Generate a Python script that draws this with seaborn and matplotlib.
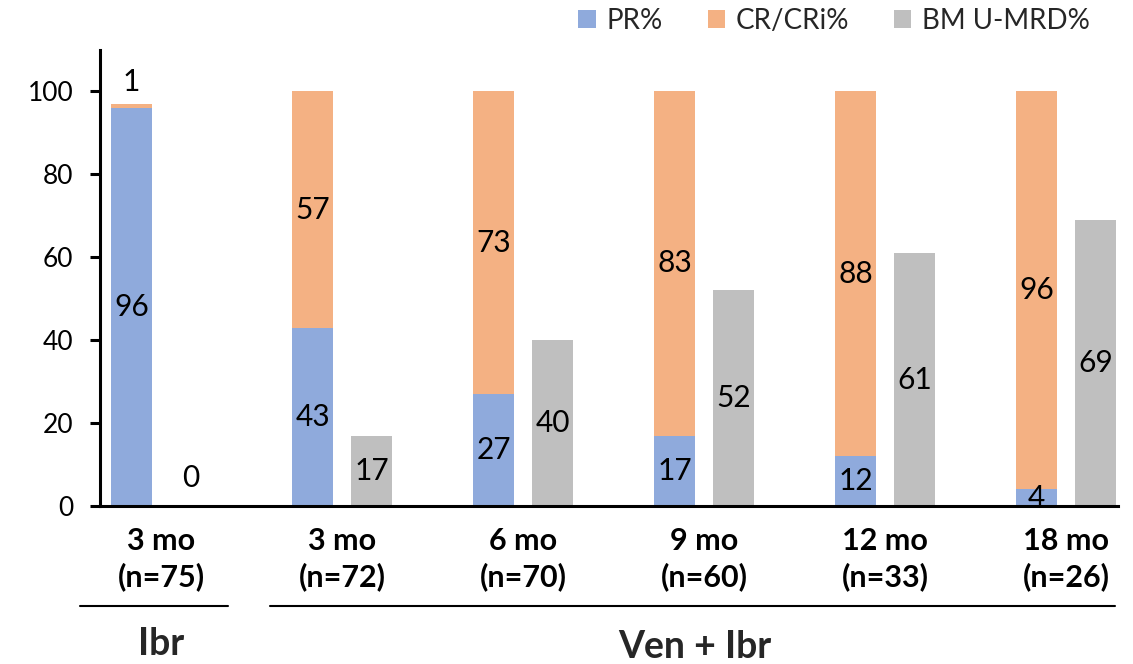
import matplotlib
matplotlib.use("Agg")
import matplotlib.pyplot as plt
import seaborn as sns
import pandas as pd
from matplotlib.patches import Patch
from matplotlib.lines import Line2D

# Response data per assessment time point
timepoints = ["3 mo\n(n=75)", "3 mo\n(n=72)", "6 mo\n(n=70)",
              "9 mo\n(n=60)", "12 mo\n(n=33)", "18 mo\n(n=26)"]
pr_pct = [96, 43, 27, 17, 12, 4]
cr_pct = [1, 57, 73, 83, 88, 96]
mrd_pct = [0, 17, 40, 52, 61, 69]
series_names = ["PR%", "CR/CRi%", "BM U-MRD%"]
arm_names = ["Ibr", "Ven + Ibr"]

BLUE = "#8FAADC"
ORANGE = "#F4B183"
GRAY = "#BFBFBF"

sns.set_theme(style="white")
plt.rcParams["font.family"] = ["Lato", "DejaVu Sans"]

fig = plt.figure(figsize=(11.33, 6.64), dpi=100)
ax = fig.add_axes([100 / 1133, 1 - 506 / 664, 1018 / 1133, 456 / 664])

resp_total = [p + c for p, c in zip(pr_pct, cr_pct)]
kinds = ["resp"] * len(timepoints) + ["mrd"] * len(timepoints)
df_total = pd.DataFrame({"timepoint": timepoints * 2, "kind": kinds,
                         "value": resp_total + mrd_pct})
df_pr = pd.DataFrame({"timepoint": timepoints * 2, "kind": kinds,
                      "value": pr_pct + [0] * len(timepoints)})

common = dict(x="timepoint", y="value", hue="kind", hue_order=["resp", "mrd"],
              order=timepoints, dodge=True, width=0.652, gap=0.305,
              linewidth=0, saturation=1, legend=False, errorbar=None, ax=ax)
# CR/CRi stacked on PR: draw the total first, then PR over its lower part
sns.barplot(data=df_total, palette={"resp": ORANGE, "mrd": GRAY}, **common)
sns.barplot(data=df_pr, palette={"resp": BLUE, "mrd": GRAY}, **common)

off = 0.163
lab_fs = 21.5
for i in range(len(timepoints)):
    xs, xm = i - off, i + off
    ax.text(xs, pr_pct[i] / 2, f"{pr_pct[i]}", ha="center", va="center",
            fontsize=lab_fs, color="black")
    if cr_pct[i] < 5:
        ax.annotate(f"{cr_pct[i]}", (xs, resp_total[i]), xytext=(0, 9.5),
                    textcoords="offset points", ha="center", va="baseline",
                    fontsize=lab_fs, color="black")
    else:
        ax.text(xs, pr_pct[i] + cr_pct[i] / 2, f"{cr_pct[i]}", ha="center",
                va="center", fontsize=lab_fs, color="black")
    if mrd_pct[i] < 5:
        ax.annotate(f"{mrd_pct[i]}", (xm, mrd_pct[i]), xytext=(0, 13.5),
                    textcoords="offset points", ha="center", va="baseline",
                    fontsize=lab_fs, color="black")
    else:
        ax.text(xm, mrd_pct[i] / 2, f"{mrd_pct[i]}", ha="center", va="center",
                fontsize=lab_fs, color="black")

ax.set_xlim(-0.337, 5.287)
ax.set_ylim(0, 110)
ax.set_yticks(range(0, 101, 20))
ax.set_xlabel("")
ax.set_ylabel("")
for side in ("top", "right"):
    ax.spines[side].set_visible(False)
for side in ("left", "bottom"):
    ax.spines[side].set_color("black")
    ax.spines[side].set_linewidth(2.2)
ax.tick_params(axis="y", length=7, width=2.2, direction="out", colors="black",
               labelsize=19, pad=12, left=True)
ax.tick_params(axis="x", length=0, labelsize=22, pad=15, colors="black")
for lbl in ax.get_xticklabels():
    lbl.set_fontweight("bold")
    lbl.set_linespacing(1.3)

# Treatment arm brackets beneath the time points
line_y = 1 - 606 / 664
for x0, x1 in [(80, 228), (270, 1115)]:
    fig.add_artist(Line2D([x0 / 1133, x1 / 1133], [line_y, line_y],
                          transform=fig.transFigure, color="black", lw=1.5))
fig.text(161 / 1133, 1 - 644 / 664, arm_names[0], ha="center", va="center",
         fontsize=27, fontweight="bold")
fig.text(695 / 1133, 1 - 647 / 664, arm_names[1], ha="center", va="center",
         fontsize=27, fontweight="bold")

handles = [Patch(facecolor=c, edgecolor="none") for c in (BLUE, ORANGE, GRAY)]
fig.legend(handles, series_names, loc="center right",
           bbox_to_anchor=(1090 / 1133, 1 - 21 / 664), ncol=3, frameon=False,
           fontsize=20, handlelength=0.62, handleheight=0.62,
           handletextpad=0.4, columnspacing=1.6, borderaxespad=0, borderpad=0)

fig.savefig("out.png", dpi=100)
